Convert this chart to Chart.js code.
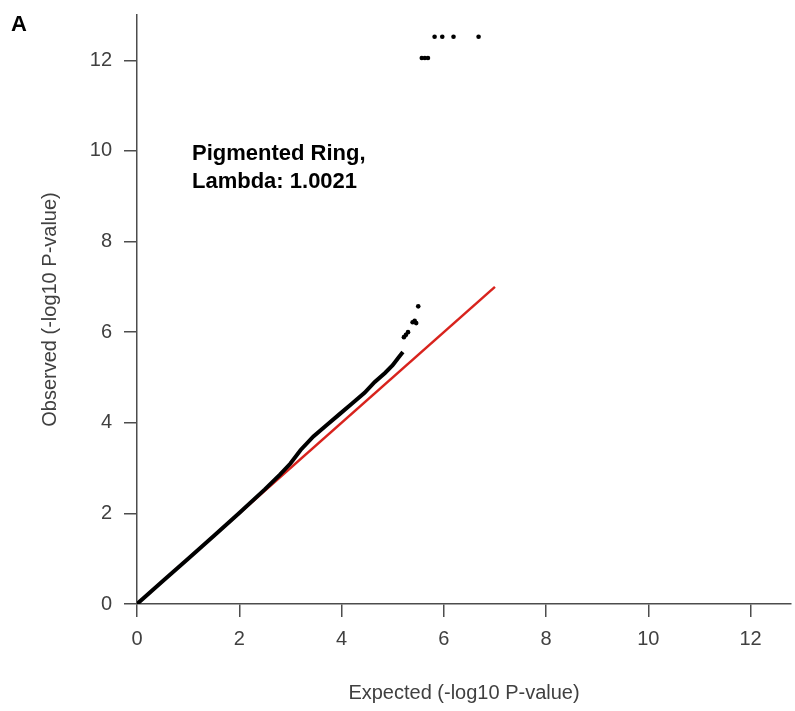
<!DOCTYPE html>
<html>
<head>
<meta charset="utf-8">
<script src="https://cdn.jsdelivr.net/npm/chart.js@4/dist/chart.umd.min.js"></script>
<style>
  body { margin: 0; background: #fff; }
  #wrap { width: 795px; height: 711px; }
</style>
</head>
<body>
<div id="wrap"><canvas id="qqChart" width="795" height="711"></canvas></div>
<script>
// QQ plot values
const expectedCurve = [0, 0.5, 1, 1.5, 2, 2.5, 2.8, 3.0, 3.2, 3.45, 3.7, 3.95, 4.2, 4.45, 4.65, 4.85, 5.0, 5.1, 5.2];
const observedCurve = [0, 0.5, 1, 1.5, 2.01, 2.53, 2.86, 3.1, 3.4, 3.7, 3.94, 4.18, 4.42, 4.66, 4.9, 5.1, 5.27, 5.42, 5.56];

// sparse top hits
const expectedTail = [5.22, 5.26, 5.30, 5.39, 5.43, 5.46, 5.50, 5.57, 5.63, 5.69, 5.82, 5.97, 6.19, 6.68];
const observedTail = [5.89, 5.94, 6.0, 6.22, 6.25, 6.2, 6.57, 12.05, 12.05, 12.05, 12.52, 12.52, 12.52, 12.52];

// y = x reference line
const refLineX = [0, 7];
const refLineY = [0, 7];

const xTicks = [0, 2, 4, 6, 8, 10, 12];
const yTicks = [0, 2, 4, 6, 8, 10, 12];

const panelLabel = "A";
const noteLines = ["Pigmented Ring,", "Lambda: 1.0021"];

const toPoints = (xs, ys) => xs.map((x, i) => ({ x: x, y: ys[i] }));

const axisGray = "#4d4d4d";
const textGray = "#404040";
const tickFont = { family: "Liberation Sans, Arial, sans-serif", size: 20 };

// keep chart area where the figure has it
function noPadding(scale) {
  scale.paddingTop = 0;
  scale.paddingBottom = 0;
  scale.paddingLeft = 0;
  scale.paddingRight = 0;
}

// panel letter + lambda note
const notePlugin = {
  id: "notes",
  afterDraw(chart) {
    const ctx = chart.ctx;
    ctx.save();
    ctx.fillStyle = "#000";
    ctx.textBaseline = "alphabetic";
    ctx.font = "bold 22px 'Liberation Sans', Arial, sans-serif";
    ctx.fillText(panelLabel, 11, 31);
    ctx.fillText(noteLines[0], 192, 160);
    ctx.fillText(noteLines[1], 192, 188);
    ctx.restore();
  }
};

const ctx = document.getElementById("qqChart").getContext("2d");
const chart = new Chart(ctx, {
  type: "scatter",
  data: {
    datasets: [
      {
        label: "tail",
        data: toPoints(expectedTail, observedTail),
        backgroundColor: "#000",
        borderColor: "#000",
        pointRadius: 2.3,
        pointBorderWidth: 0
      },
      {
        label: "observed",
        data: toPoints(expectedCurve, observedCurve),
        showLine: true,
        borderColor: "#000",
        borderWidth: 4,
        pointRadius: 0,
        tension: 0
      },
      {
        label: "expected",
        data: toPoints(refLineX, refLineY),
        showLine: true,
        borderColor: "#d8231d",
        borderWidth: 2.5,
        pointRadius: 0
      }
    ]
  },
  options: {
    responsive: false,
    devicePixelRatio: 1,
    animation: false,
    layout: { padding: { top: 15, right: 0, bottom: 0, left: 0 } },
    plugins: {
      legend: { display: false },
      tooltip: { enabled: false }
    },
    scales: {
      x: {
        type: "linear",
        min: 0,
        max: 12.79,
        afterBuildTicks: (scale) => { scale.ticks = xTicks.map(v => ({ value: v })); },
        afterFit: (scale) => { scale.height = 107; noPadding(scale); },
        grid: { drawOnChartArea: false, drawTicks: true, tickLength: 13, color: axisGray, lineWidth: 1.5 },
        border: { display: true, color: axisGray, width: 1.5 },
        ticks: { color: textGray, font: tickFont, padding: 10, maxRotation: 0 },
        title: {
          display: true,
          text: "Expected (-log10 P-value)",
          color: textGray,
          font: tickFont,
          padding: { top: 0, bottom: 6 }
        }
      },
      y: {
        type: "linear",
        min: 0,
        max: 13,
        afterBuildTicks: (scale) => { scale.ticks = yTicks.map(v => ({ value: v })); },
        afterFit: (scale) => { scale.width = 137; noPadding(scale); },
        grid: { drawOnChartArea: false, drawTicks: true, tickLength: 13, color: axisGray, lineWidth: 1.5 },
        border: { display: true, color: axisGray, width: 1.5 },
        ticks: { color: textGray, font: tickFont, padding: 12 },
        title: {
          display: true,
          text: "Observed (-log10 P-value)",
          color: textGray,
          font: tickFont,
          padding: { top: 38, bottom: 0 }
        }
      }
    }
  },
  plugins: [notePlugin]
});
</script>
</body>
</html>
